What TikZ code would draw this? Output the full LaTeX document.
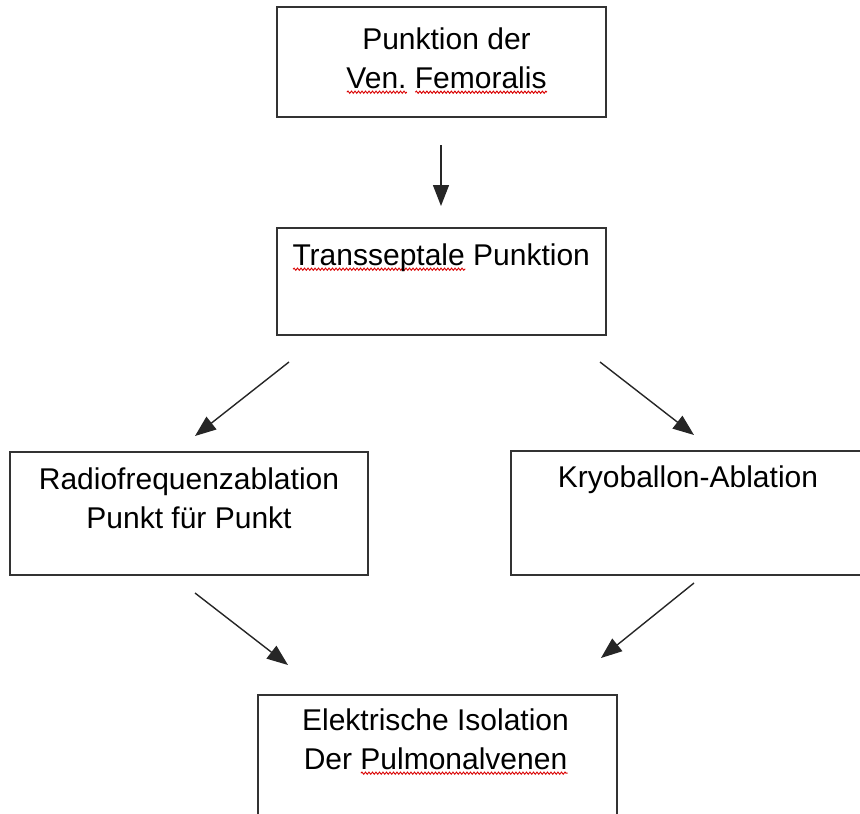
\documentclass[tikz,border=0pt]{standalone}
\usepackage{fontspec}
\setmainfont{Liberation Sans}
\usetikzlibrary{positioning,arrows.meta,decorations.pathmorphing}
\newsavebox\wordbox
\newcommand\redwave[1]{\sbox\wordbox{#1}%
  \rlap{\raisebox{-5pt}{\tikz[x=1pt,y=1pt]\draw[red!85!black,line width=0.9pt,decorate,
    decoration={snake,amplitude=1.1pt,segment length=3.5pt}] (0,0) -- (\the\wd\wordbox,0);}}%
  \usebox\wordbox}
\begin{document}
\begin{tikzpicture}[x=1pt,y=-1pt,
    box/.style={draw=black!80,line width=1.4pt,inner sep=0pt},
    txt/.style={font=\fontsize{30}{39}\selectfont,align=center,inner sep=0pt},
    pfeil/.style={draw=black!85,line width=1.4pt,-{Triangle[length=21pt,width=16pt]}}]
  \useasboundingbox (0,0) rectangle (860,814);
  % boxes
  \node [box,minimum width=329pt,minimum height=110pt] (b1) at (441.5,62) {};
  \node [box,minimum width=329pt,minimum height=107pt] (b2) at (441.5,281.5) {};
  \node [box,minimum width=358pt,minimum height=123pt] (b3) at (189,513.5) {};
  \node [box,minimum width=354pt,minimum height=124pt] (b4) at (688,513) {};
  \node [box,minimum width=359pt,minimum height=124pt] (b5) at (437.5,757) {};
  % texts
  \node [txt,below=21.5pt of b1.north,xshift=5pt] (t1) {Punktion der\\\redwave{Ven.} \redwave{Femoralis}};
  \node [txt,below right=16.5pt and 16pt of b2.north west] (t2) {\redwave{Transseptale} Punktion};
  \node [txt,below=16.5pt of b3.north] (t3) {Radiofrequenzablation\\Punkt f\"ur Punkt};
  \node [txt,below=15.5pt of b4.north] (t4) {Kryoballon-Ablation};
  \node [txt,below=14.5pt of b5.north,xshift=-2pt] (t5) {Elektrische Isolation\\Der \redwave{Pulmonalvenen}};
  % arrows
  \coordinate (a1s) at (441,145);  \coordinate (a1e) at (441,206);
  \coordinate (a2s) at (289,362);  \coordinate (a2e) at (195,436);
  \coordinate (a3s) at (600,362);  \coordinate (a3e) at (694,435);
  \coordinate (a4s) at (195,593);  \coordinate (a4e) at (288,665);
  \coordinate (a5s) at (694,583);  \coordinate (a5e) at (601,658);
  \foreach \i in {1,...,5}
    \draw [pfeil] (a\i s) -- (a\i e);
\end{tikzpicture}
\end{document}
